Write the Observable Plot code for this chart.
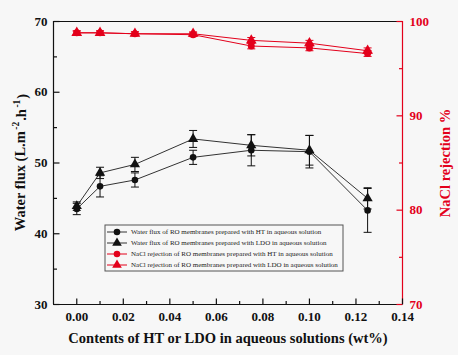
<!DOCTYPE html>
<html><head><meta charset="utf-8">
<script src="https://cdn.jsdelivr.net/npm/d3@7"></script>
<script src="https://cdn.jsdelivr.net/npm/@observablehq/plot@0.6"></script>
<style>
body{margin:0;background:#f7f7f7}
#chart{position:relative;width:458px;height:355px}
</style>
</head><body><div id="chart"></div>
<script>
// ---- data ----
const contents = [0, 0.01, 0.025, 0.05, 0.075, 0.1, 0.125];
const fluxHT = [43.5, 46.7, 47.6, 50.8, 51.8, 51.6, 43.3];
const fluxHTErr = [0.8, 1.5, 1.0, 1.0, 2.2, 2.3, 3.1];
const fluxLDO = [43.9, 48.6, 49.8, 53.4, 52.5, 51.8, 45.0];
const fluxLDOErr = [0.6, 0.8, 1.0, 1.2, 1.5, 2.1, 1.5];
const rejHT = [98.8, 98.8, 98.7, 98.6, 97.4, 97.2, 96.6];
const rejHTErr = [0.2, 0.2, 0.2, 0.2, 0.3, 0.3, 0.3];
const rejLDO = [98.8, 98.8, 98.7, 98.7, 98.0, 97.7, 96.9];
const rejLDOErr = [0.2, 0.2, 0.2, 0.2, 0.3, 0.3, 0.3];
const xTicks = [0, 0.02, 0.04, 0.06, 0.08, 0.10, 0.12, 0.14];
const xMinor = [0.01, 0.03, 0.05, 0.07, 0.09, 0.11, 0.13];
const yTicks = [30, 40, 50, 60, 70];
const yMinor = [35, 45, 55, 65];
const rTicks = [70, 80, 90, 100];
const rMinor = [75, 85, 95];
const legendLabels = [
  "Water flux of RO membranes prepared with HT in aqueous solution",
  "Water flux of RO membranes prepared with LDO in aqueous solution",
  "NaCl rejection of RO membranes prepared with HT in aqueous solution",
  "NaCl rejection of RO membranes prepared with LDO in aqueous solution"
];
const xTitle = "Contents of HT or LDO in aqueous solutions (wt%)";
const yTitleParts = [["Water flux (L.m", false], ["-2", true], [".h", false], ["-1", true], [")", false]];
const rTitle = "NaCl rejection %";

// ---- layout ----
const W = 458, H = 355, mL = 53, mR = 56, mT = 21, mB = 51;
const xDomain = [-0.01, 0.14], yDomain = [30, 70], rDomain = [70, 100];
const xPx = (xDomain[1] - xDomain[0]) / (W - mL - mR);
const yPx = (yDomain[1] - yDomain[0]) / (H - mT - mB);
const rejToY = r => yDomain[0] + (r - rDomain[0]) * (yDomain[1] - yDomain[0]) / (rDomain[1] - rDomain[0]);
const RED = "#e3001b";
const BLACK = "#111";
const FONT = "'Liberation Serif', 'Times New Roman', serif";

function series(vals, errs, toY = v => v) {
  return contents.map((x, i) => ({x, y: toY(vals[i]), lo: toY(vals[i] - errs[i]), hi: toY(vals[i] + errs[i])}));
}
const sHT = series(fluxHT, fluxHTErr);
const sLDO = series(fluxLDO, fluxLDOErr);
const sRHT = series(rejHT, rejHTErr, rejToY);
const sRLDO = series(rejLDO, rejLDOErr, rejToY);

const cap = 4 * xPx, tick = 6 * xPx, tickMinor = 3.5 * xPx, vtick = 6 * yPx, vtickMinor = 3.5 * yPx;

function errMarks(data, color) {
  return [
    Plot.link(data, {x1: "x", x2: "x", y1: "lo", y2: "hi", stroke: color, strokeWidth: 1}),
    Plot.link(data, {x1: d => d.x - cap, x2: d => d.x + cap, y1: "lo", y2: "lo", stroke: color, strokeWidth: 1}),
    Plot.link(data, {x1: d => d.x - cap, x2: d => d.x + cap, y1: "hi", y2: "hi", stroke: color, strokeWidth: 1})
  ];
}

const chart = Plot.plot({
  width: W, height: H,
  marginLeft: mL, marginRight: mR, marginTop: mT, marginBottom: mB,
  style: {fontFamily: FONT, fontWeight: "bold", fontSize: "13px", background: "transparent", color: BLACK},
  x: {domain: xDomain, axis: null},
  y: {domain: yDomain, axis: null},
  marks: [
    // frame
    Plot.ruleY([yDomain[0]], {stroke: BLACK, strokeWidth: 1.2}),
    Plot.ruleY([yDomain[1]], {stroke: BLACK, strokeWidth: 1.2}),
    Plot.ruleX([xDomain[0]], {stroke: BLACK, strokeWidth: 1.2}),
    Plot.ruleX([xDomain[1]], {stroke: RED, strokeWidth: 1.2}),
    // inward ticks: left
    Plot.link(yTicks, {x1: xDomain[0], x2: xDomain[0] + tick, y1: d => d, y2: d => d, stroke: BLACK, strokeWidth: 1.2}),
    Plot.link(yMinor, {x1: xDomain[0], x2: xDomain[0] + tickMinor, y1: d => d, y2: d => d, stroke: BLACK, strokeWidth: 1.2}),
    // right (red)
    Plot.link(rTicks, {x1: xDomain[1] - tick, x2: xDomain[1], y1: d => rejToY(d), y2: d => rejToY(d), stroke: RED, strokeWidth: 1.2}),
    Plot.link(rMinor, {x1: xDomain[1] - tickMinor, x2: xDomain[1], y1: d => rejToY(d), y2: d => rejToY(d), stroke: RED, strokeWidth: 1.2}),
    // bottom
    Plot.link(xTicks, {x1: d => d, x2: d => d, y1: yDomain[0], y2: yDomain[0] + vtick, stroke: BLACK, strokeWidth: 1.2}),
    Plot.link(xMinor, {x1: d => d, x2: d => d, y1: yDomain[0], y2: yDomain[0] + vtickMinor, stroke: BLACK, strokeWidth: 1.2}),
    // tick labels
    Plot.axisY({ticks: yTicks, tickSize: 0, tickPadding: 6, label: null, fontSize: 13}),
    Plot.axisY({anchor: "right", ticks: rTicks.map(rejToY), tickFormat: (d, i) => String(rTicks[i]), tickSize: 0, tickPadding: 7, label: null, fill: RED, fontSize: 13}),
    Plot.axisX({ticks: xTicks, tickSize: 0, tickPadding: 7, tickFormat: d3.format(".2f"), label: null, fontSize: 13}),
    // axis titles
    Plot.text([rTitle], {frameAnchor: "right", textAnchor: "middle", rotate: -90, dx: 43, fontSize: 14.5, fontWeight: "bold", fill: RED}),
    Plot.text([xTitle], {frameAnchor: "bottom", textAnchor: "middle", dy: 38, fontSize: 14.5, fontWeight: "bold", fill: BLACK}),
    // series lines
    Plot.line(sHT, {x: "x", y: "y", stroke: "#333", strokeWidth: 1}),
    Plot.line(sLDO, {x: "x", y: "y", stroke: "#333", strokeWidth: 1}),
    Plot.line(sRHT, {x: "x", y: "y", stroke: RED, strokeWidth: 1}),
    Plot.line(sRLDO, {x: "x", y: "y", stroke: RED, strokeWidth: 1}),
    ...errMarks(sHT, BLACK), ...errMarks(sLDO, BLACK),
    ...errMarks(sRHT, RED), ...errMarks(sRLDO, RED),
    Plot.dot(sHT, {x: "x", y: "y", symbol: "circle", fill: BLACK, r: 3.3}),
    Plot.dot(sLDO, {x: "x", y: "y", symbol: "triangle", fill: BLACK, r: 3.8}),
    Plot.dot(sRHT, {x: "x", y: "y", symbol: "circle", fill: RED, r: 3.5}),
    Plot.dot(sRLDO, {x: "x", y: "y", symbol: "triangle", fill: RED, r: 4})
  ]
});
document.getElementById("chart").appendChild(chart);

const svg = d3.select(chart);

// left axis title with superscripts
const yt = svg.append("text")
  .attr("transform", `translate(20,${(mT + H - mB) / 2}) rotate(-90)`)
  .attr("text-anchor", "middle").attr("dy", "0.35em")
  .attr("font-family", FONT).attr("font-weight", "bold").attr("font-size", 14.5).attr("fill", BLACK);
yTitleParts.forEach(([t, sup]) => {
  const ts = yt.append("tspan").text(t);
  if (sup) ts.attr("font-size", 9.5).attr("dy", "-0.6em").attr("dx", "1.5");
  else if (t !== yTitleParts[0][0]) ts.attr("dy", "0.45em").attr("dx", "1");
});

// legend (inside plot area, drawn into the SVG)
const lg = svg.append("g").attr("transform", "translate(105,225)");
lg.append("rect").attr("width", 238).attr("height", 46).attr("fill", "none").attr("stroke", "#555").attr("stroke-width", 1);
const legendStyle = [
  {color: BLACK, line: "#333", sym: d3.symbolCircle},
  {color: BLACK, line: "#333", sym: d3.symbolTriangle},
  {color: RED, line: RED, sym: d3.symbolCircle},
  {color: RED, line: RED, sym: d3.symbolTriangle}
];
legendLabels.forEach((t, i) => {
  const y = 7 + i * 11;
  const s = legendStyle[i];
  lg.append("line").attr("x1", 2).attr("x2", 22).attr("y1", y).attr("y2", y).attr("stroke", s.line).attr("stroke-width", 1);
  lg.append("path").attr("d", d3.symbol(s.sym, i % 2 ? 40 : 34)()).attr("transform", `translate(12,${y})`).attr("fill", s.color);
  lg.append("text").attr("x", 26).attr("y", y).attr("dy", "0.35em").attr("text-anchor", "start")
    .attr("font-size", 7).attr("font-weight", "normal").attr("font-family", FONT)
    .attr("fill", "#222").text(t);
});
</script>
</body></html>
